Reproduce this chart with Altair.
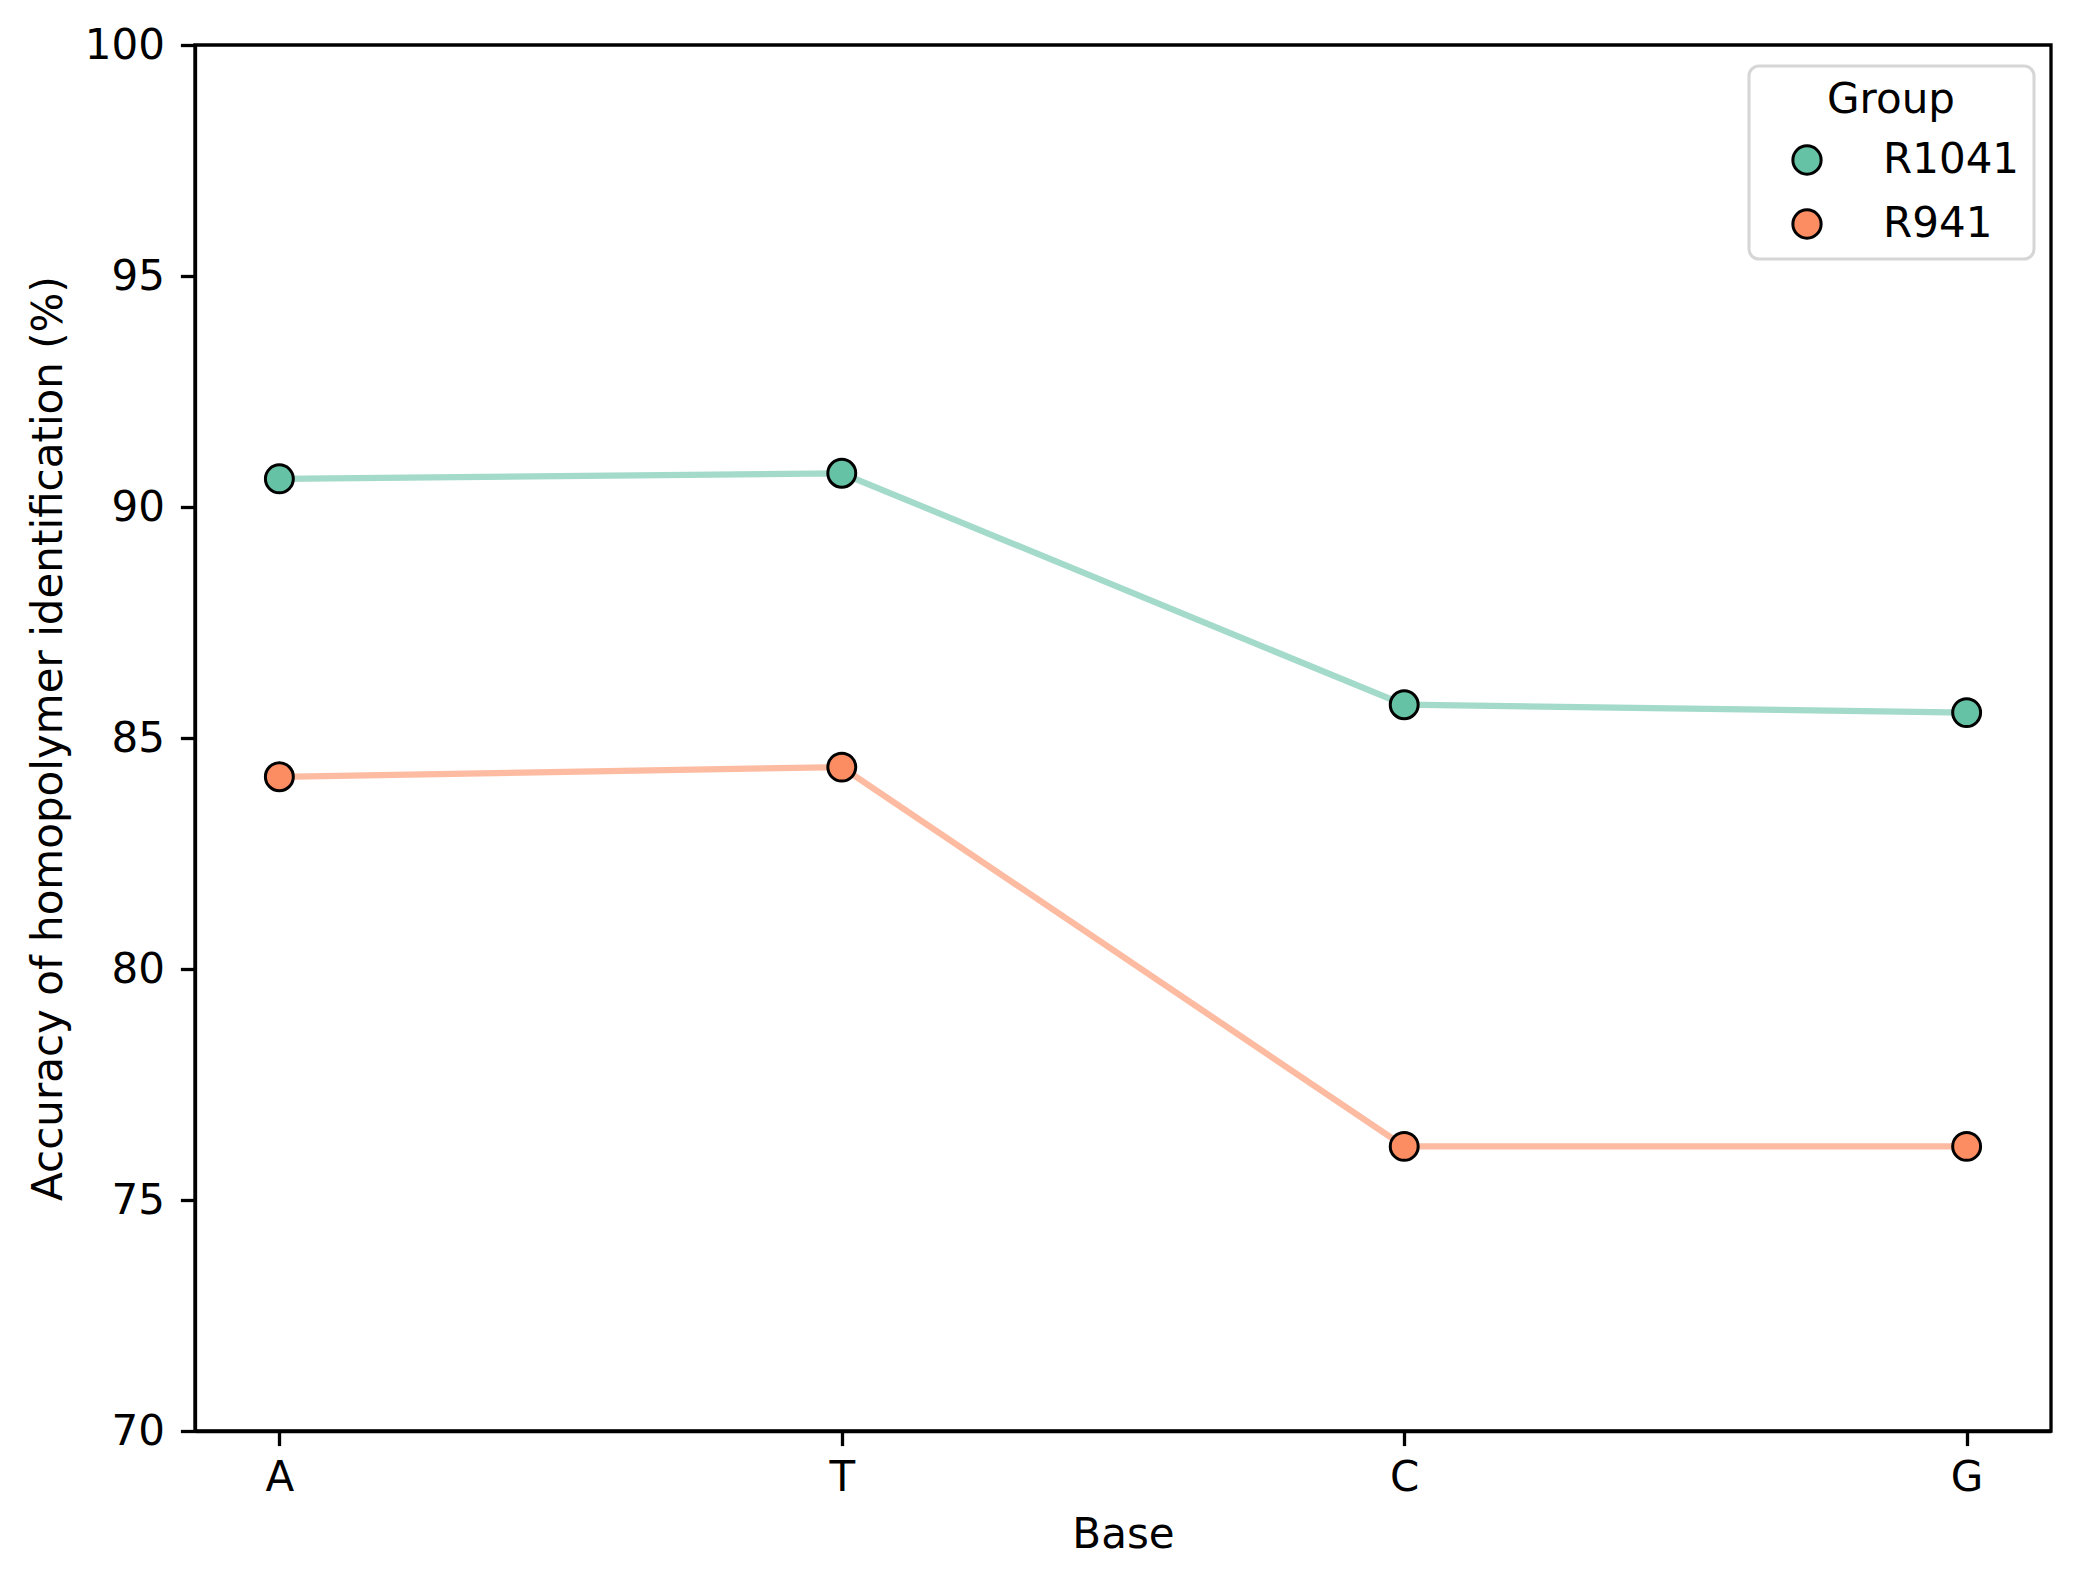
import altair as alt
import pandas as pd

bases = ["A", "T", "C", "G"]
groups = ["R1041", "R941"]
r1041_values = [90.61, 90.73, 85.72, 85.55]
r941_values = [84.16, 84.37, 76.16, 76.16]
colors = ["#66c2a5", "#fc8d62"]
y_ticks = [70, 75, 80, 85, 90, 95, 100]

rows = []
for b, v in zip(bases, r1041_values):
    rows.append({"Base": b, "Group": "R1041", "Accuracy": v})
for b, v in zip(bases, r941_values):
    rows.append({"Base": b, "Group": "R941", "Accuracy": v})
df = pd.DataFrame(rows)

FONT = "DejaVu Sans"
FS = 42

x_enc = alt.X("Base:N", sort=bases, title="Base",
              scale=alt.Scale(type="point", padding=0.15),
              axis=alt.Axis(labelAngle=0))
y_enc = alt.Y("Accuracy:Q", title="Accuracy of homopolymer identification (%)",
              scale=alt.Scale(domain=[70, 100], nice=False, zero=False),
              axis=alt.Axis(values=y_ticks))
legend = alt.Legend(
    title="Group", orient="none", legendX=1554, legendY=21,
    symbolType="circle", symbolSize=800, symbolOpacity=1,
    symbolStrokeColor="black", symbolStrokeWidth=3,
)
color_scale = alt.Scale(domain=groups, range=colors)

line_layers = [
    alt.Chart(df).transform_filter(alt.datum.Group == g)
    .mark_line(strokeWidth=6.25, opacity=0.6, color=c)
    .encode(x=x_enc, y=y_enc)
    for g, c in zip(groups, colors)
]
points = alt.Chart(df).mark_point(
    filled=True, size=780, opacity=1, stroke="black", strokeWidth=3, shape="circle"
).encode(
    x=x_enc, y=y_enc,
    color=alt.Color("Group:N", scale=color_scale, legend=legend),
)

chart = (
    alt.layer(*line_layers, points)
    .properties(
        width=1856, height=1386,
        autosize=alt.AutoSizeParams(type="none"),
        padding={"left": 187, "top": 37, "right": 20, "bottom": 150},
    )
    .configure_view(stroke="black", strokeWidth=3.3)
    .configure_axis(
        labelFont=FONT, titleFont=FONT, labelFontSize=FS, titleFontSize=FS,
        labelColor="black", titleColor="black", titleFontWeight="normal",
        domainColor="black", domainWidth=3.3, tickColor="black", tickWidth=3.3,
        tickSize=14.6, grid=False,
    )
    .configure_axisY(labelPadding=16, titlePadding=14)
    .configure_axisX(labelPadding=12, titlePadding=16)
    .configure_legend(
        titleFont=FONT, labelFont=FONT, titleFontSize=FS, labelFontSize=FS,
        titleFontWeight="normal", titleColor="black", labelColor="black",
        fillColor="white", strokeColor="#d6d6d6", strokeWidth=3, cornerRadius=10,
        padding=14, symbolOffset=23, labelOffset=55, rowPadding=22, titlePadding=17,
        titleAnchor="middle",
    )
)

chart.save("out.html", embed_options={"renderer": "svg", "actions": False})
